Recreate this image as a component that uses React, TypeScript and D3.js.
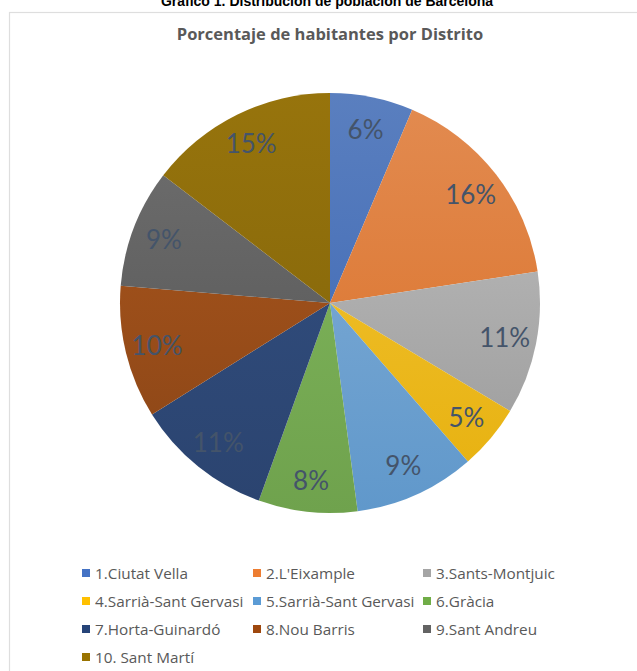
import * as React from 'react';
import { useRef, useEffect } from 'react';
import * as d3 from 'd3';

const districts = [
  '1.Ciutat Vella',
  "2.L'Eixample",
  '3.Sants-Montjuic',
  '4.Sarrià-Sant Gervasi',
  '5.Sarrià-Sant Gervasi',
  '6.Gràcia',
  '7.Horta-Guinardó',
  '8.Nou Barris',
  '9.Sant Andreu',
  '10. Sant Martí',
];
const shares = [6.4, 16.2, 11.0, 5.0, 9.3, 7.6, 10.6, 10.2, 9.1, 14.6];
const colors = ['#4472C4', '#ED7D31', '#A5A5A5', '#FFC000', '#5B9BD5', '#70AD47', '#264478', '#9E480E', '#636363', '#997300'];

function tone(c: string, k: number) {
  const h = d3.hsl(c);
  h.s *= 0.85;
  return (k >= 0 ? h.brighter(k) : h.darker(-k)).formatHex();
}

export default function App() {
  const ref = useRef<SVGSVGElement>(null);
  const width = 637;
  const height = 671;
  const cx = 330;
  const cy = 303;
  const radius = 210;

  useEffect(() => {
    document.body.style.margin = '0';
    if (!ref.current) return;
    const svg = d3.select(ref.current);
    svg.selectAll('*').remove();

    const data = districts.map((name, i) => ({ name, value: shares[i], color: colors[i] }));

    // per-slice gradients, lighter on top like the Excel style
    const defs = svg.append('defs');
    data.forEach((d, i) => {
      const g = defs.append('linearGradient')
        .attr('id', `grad-${i}`)
        .attr('x1', 0).attr('y1', 0).attr('x2', 0).attr('y2', 1);
      g.append('stop').attr('offset', '0%').attr('stop-color', tone(d.color, 0.18));
      g.append('stop').attr('offset', '100%').attr('stop-color', tone(d.color, -0.05));
    });

    // top title (partly cut off)
    svg.append('text')
      .attr('x', 327)
      .attr('y', 6)
      .attr('text-anchor', 'middle')
      .attr('font-family', 'Arial, "Liberation Sans", sans-serif')
      .attr('font-weight', 'bold')
      .attr('font-size', 14)
      .attr('fill', '#000')
      .text('Gráfico 1. Distribución de población de Barcelona');

    // chart frame
    svg.append('rect')
      .attr('x', 9.5)
      .attr('y', 12.5)
      .attr('width', 700)
      .attr('height', 700)
      .attr('fill', '#fff')
      .attr('stroke', '#dedede')
      .attr('stroke-width', 1.2);

    svg.append('text')
      .attr('x', 330)
      .attr('y', 40)
      .attr('text-anchor', 'middle')
      .attr('font-family', '"Open Sans", Lato, sans-serif')
      .attr('font-weight', 'bold')
      .attr('font-size', 16.5)
      .attr('fill', '#595959')
      .text('Porcentaje de habitantes por Distrito');

    const pie = d3.pie<typeof data[number]>()
      .value((d) => d.value)
      .sort(null);
    const arcs = pie(data);

    const arc = d3.arc<d3.PieArcDatum<typeof data[number]>>()
      .innerRadius(0)
      .outerRadius(radius);
    const labelArc = d3.arc<d3.PieArcDatum<typeof data[number]>>()
      .innerRadius(178)
      .outerRadius(178);

    const g = svg.append('g').attr('transform', `translate(${cx},${cy})`);
    g.selectAll('path')
      .data(arcs)
      .join('path')
      .attr('d', arc)
      .attr('fill', (d, i) => `url(#grad-${i})`);

    g.selectAll('text.pct')
      .data(arcs)
      .join('text')
      .attr('class', 'pct')
      .attr('transform', (d) => `translate(${labelArc.centroid(d)})`)
      .attr('text-anchor', 'middle')
      .attr('dominant-baseline', 'central')
      .attr('font-family', 'Lato, "Open Sans", sans-serif')
      .attr('font-size', 26)
      .attr('fill', '#44546A')
      .text((d) => `${Math.round(d.data.value)}%`);

    // legend
    const colX = [82, 253, 423];
    const rowY = [573, 601, 629, 657];
    const legend = svg.append('g');
    data.forEach((d, i) => {
      const x = colX[i % 3];
      const y = rowY[Math.floor(i / 3)];
      legend.append('rect')
        .attr('x', x)
        .attr('y', y - 4)
        .attr('width', 8)
        .attr('height', 8)
        .attr('fill', d.color);
      legend.append('text')
        .attr('x', x + 13)
        .attr('y', y)
        .attr('dominant-baseline', 'central')
        .attr('font-family', '"Open Sans", Lato, sans-serif')
        .attr('font-size', 15.3)
        .attr('fill', '#595959')
        .text(d.name);
    });
  }, []);

  return <svg ref={ref} width={width} height={height} style={{ display: 'block', background: '#fff' }} />;
}
